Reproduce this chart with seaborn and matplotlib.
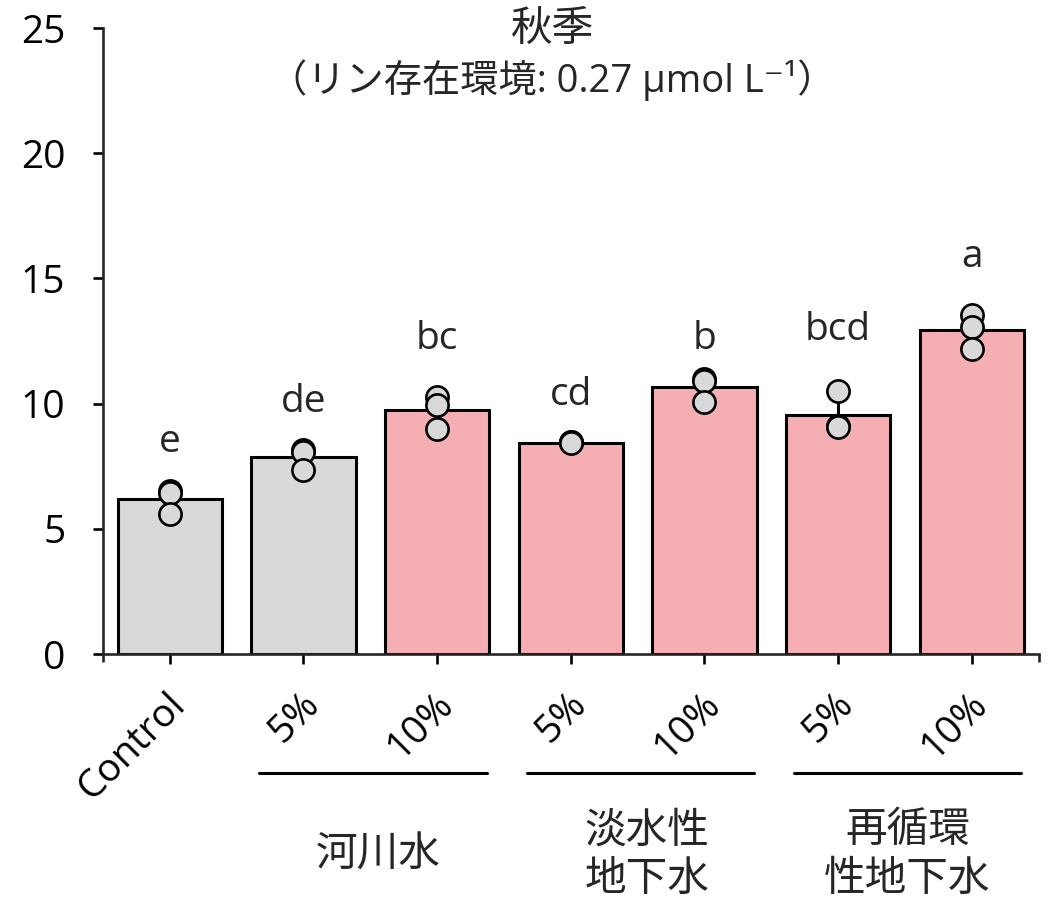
import matplotlib
matplotlib.use("Agg")
import matplotlib.pyplot as plt
import matplotlib.transforms as mtransforms
import seaborn as sns
import pandas as pd

# ---- data ----
groups = ["Control", "河川水 5%", "河川水 10%", "淡水性地下水 5%", "淡水性地下水 10%",
          "再循環性地下水 5%", "再循環性地下水 10%"]
tick_labels = ["Control", "5%", "10%", "5%", "10%", "5%", "10%"]
replicates = [
    [6.50, 6.45, 5.60],
    [8.15, 8.07, 7.35],
    [10.25, 9.95, 9.00],
    [8.47, 8.45, 8.42],
    [11.00, 10.90, 10.08],
    [10.50, 9.10, 9.05],
    [13.55, 13.05, 12.20],
]
sig_letters = ["e", "de", "bc", "cd", "b", "bcd", "a"]
sig_label_y = [8.07, 9.66, 12.18, 9.94, 12.18, 12.54, 15.45]
bar_colors = ["#d9d9d9", "#d9d9d9", "#f5afb3", "#f5afb3", "#f5afb3", "#f5afb3", "#f5afb3"]
super_groups = ["河川水", "淡水性\n地下水", "再循環\n性地下水"]
super_members = [(1, 2), (3, 4), (5, 6)]
title_line1 = "秋季"
title_line2 = "（リン存在環境: 0.27 μmol L⁻¹）"

rows = []
for g, vals in zip(groups, replicates):
    for v in vals:
        rows.append({"group": g, "value": v})
df = pd.DataFrame(rows)

sns.set_style("ticks")
fam = ["Open Sans", "Noto Sans CJK JP", "DejaVu Sans"]
plt.rcParams["font.family"] = fam
FS = 28

fig = plt.figure(figsize=(10.56, 9.06), dpi=100)
ax = fig.add_axes([0.0975, 0.2781, 0.9835 - 0.0975, 0.969 - 0.2781])

sns.barplot(data=df, x="group", y="value", hue="group", order=groups, hue_order=groups,
            palette=bar_colors, saturation=1, errorbar="sd", width=0.78,
            edgecolor="black", linewidth=2.2, legend=False, ax=ax,
            err_kws={"color": "black", "linewidth": 2.2, "zorder": 0.5})
sns.stripplot(data=df, x="group", y="value", order=groups, jitter=False,
              color="#d9d9d9", edgecolor="black", linewidth=1.9, size=16,
              ax=ax, zorder=3)

ax.set_ylim(0, 25)
ax.set_xlim(-0.5, len(groups) - 0.5)
ax.set_yticks([0, 5, 10, 15, 20, 25])
ax.set_xlabel("")
ax.set_ylabel("")
for s in ["top", "right"]:
    ax.spines[s].set_visible(False)
for s in ["left", "bottom"]:
    ax.spines[s].set_linewidth(1.9)
ax.tick_params(axis="both", length=7, width=1.9, labelsize=FS, colors="black")
ax.tick_params(axis="y", pad=20)
ax.set_xticks(range(len(groups)))
ax.set_xticks([-0.5, len(groups) - 0.5], minor=True)
ax.tick_params(axis="x", which="minor", length=6, width=1.9)
ax.set_xticklabels(tick_labels, rotation=45, ha="right", va="center",
                   rotation_mode="anchor", fontsize=FS)
offset = mtransforms.ScaledTranslation(10 / 100, -30 / 100, fig.dpi_scale_trans)
for lab in ax.get_xticklabels():
    lab.set_transform(lab.get_transform() + offset)
for lab in ax.get_yticklabels():
    lab.set_fontsize(FS)

# significance letters
for i, (letter, y) in enumerate(zip(sig_letters, sig_label_y)):
    ax.text(i, y, letter, ha="center", va="baseline", fontsize=FS, family=fam)

# group lines and labels
trans = mtransforms.blended_transform_factory(ax.transData, ax.transAxes)
label_dx = [0.06, 0.07, 0.02]
for name, (a, b), dx in zip(super_groups, super_members, label_dx):
    ax.plot([a - 0.33, b + 0.37], [-0.19, -0.19], color="black", lw=2.2,
            transform=trans, clip_on=False)
    ax.text((a + b) / 2 + dx, -0.322, name, ha="center", va="center",
            fontsize=30, transform=trans, linespacing=1.2, family=fam)

fig.text(0.523, 0.967, title_line1, ha="center", va="center", fontsize=30, family=fam)
fig.text(0.523, 0.912, title_line2, ha="center", va="center", fontsize=27.5, family=fam)

fig.savefig("out.png", dpi=100)
